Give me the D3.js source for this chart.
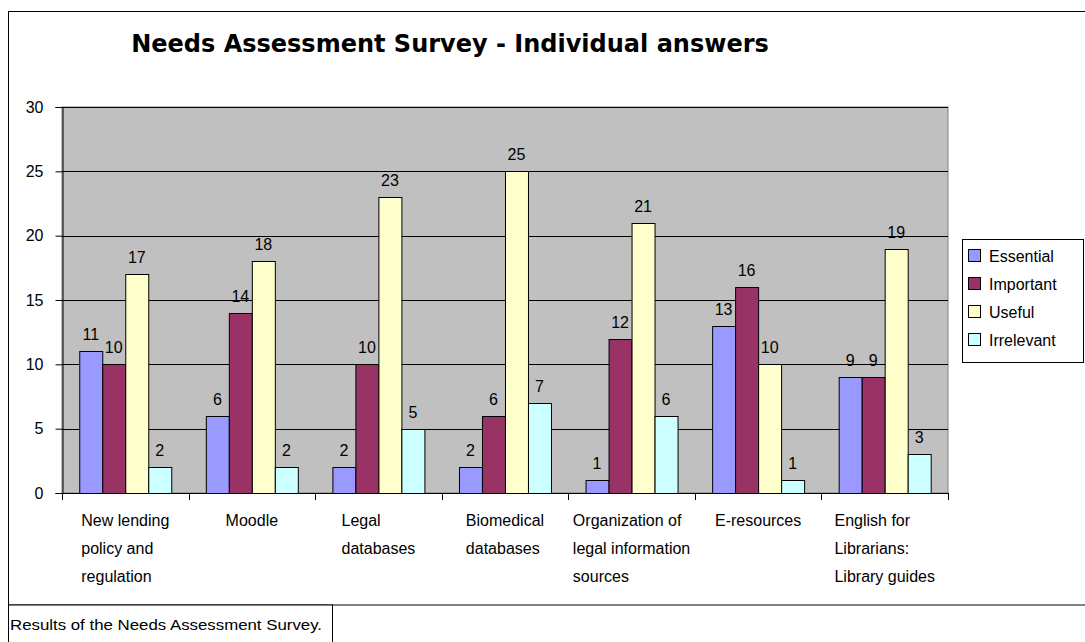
<!DOCTYPE html>
<html><head><meta charset="utf-8">
<script src="https://cdn.jsdelivr.net/npm/d3@7"></script>
<style>body{margin:0;background:#fff}svg{display:block}</style>
</head><body>
<svg id="c" width="1085" height="642"></svg>
<script>
const categories = [
  ["New lending","policy and","regulation"],
  ["Moodle"],
  ["Legal","databases"],
  ["Biomedical","databases"],
  ["Organization of","legal information","sources"],
  ["E-resources"],
  ["English for","Librarians:","Library guides"]
];
const seriesNames = ["Essential","Important","Useful","Irrelevant"];
const essential  = [11, 6, 2, 2, 1, 13, 9];
const important  = [10, 14, 10, 6, 12, 16, 9];
const useful     = [17, 18, 23, 25, 21, 10, 19];
const irrelevant = [2, 2, 5, 7, 6, 1, 3];
const yTicks = [0, 5, 10, 15, 20, 25, 30];
const colors = ["#9999ff","#993366","#ffffcc","#ccffff"];
const title = "Needs Assessment Survey - Individual answers";
const caption = "Results of the Needs Assessment Survey.";

const series = [essential, important, useful, irrelevant];
const svg = d3.select("#c");
const font = "Liberation Sans, Arial, sans-serif";

// outer frame
svg.append("rect").attr("x",8.5).attr("y",11.5).attr("width",1090).attr("height",593.5)
  .attr("fill","#fff").attr("stroke","#000");
// caption box
svg.append("rect").attr("x",8.5).attr("y",605).attr("width",324).attr("height",50)
  .attr("fill","#fff").attr("stroke","#000");
svg.append("text").attr("x",10).attr("y",630).attr("font-family",font).attr("font-size",14.5)
  .attr("textLength",312).attr("lengthAdjust","spacingAndGlyphs")
  .text(caption);

// title
svg.append("text").attr("x",450).attr("y",52).attr("text-anchor","middle")
  .attr("font-family","DejaVu Sans, sans-serif").attr("font-weight","bold").attr("font-size",24)
  .text(title);

const L = 62, R = 948, T = 107, B = 493;
const x = d3.scaleBand().domain(d3.range(categories.length)).range([L, R]).paddingInner(0).paddingOuter(0);
const y = d3.scaleLinear().domain([0, 30]).range([B, T]);
const bw = x.bandwidth() / 5.5;
const xs = d3.scaleBand().domain(d3.range(4)).range([0, bw*4]);

// plot area
svg.append("rect").attr("x",L).attr("y",T).attr("width",R-L).attr("height",B-T)
  .attr("fill","#c0c0c0").attr("stroke","#808080");

// gridlines
svg.append("g").selectAll("line").data(yTicks.filter(d=>d>0)).join("line")
  .attr("x1",L).attr("x2",R).attr("y1",d=>Math.round(y(d))+0.5).attr("y2",d=>Math.round(y(d))+0.5)
  .attr("stroke","#000");

// y axis
const ya = svg.append("g").attr("transform",`translate(${L+0.5},0)`)
  .call(d3.axisLeft(y).tickValues(yTicks).tickSize(7).tickPadding(12));
ya.select(".domain").attr("stroke","#000");
ya.selectAll("text").attr("font-family",font).attr("font-size",16).attr("fill","#000");

// x axis line and ticks
svg.append("line").attr("x1",L).attr("x2",R).attr("y1",B+0.5).attr("y2",B+0.5).attr("stroke","#000");
const bounds = d3.range(categories.length+1).map(i => i < categories.length ? x(i) : x(i-1)+x.bandwidth());
svg.append("g").selectAll("line").data(bounds).join("line")
  .attr("x1",d=>Math.round(d)+0.5).attr("x2",d=>Math.round(d)+0.5).attr("y1",B).attr("y2",B+7)
  .attr("stroke","#000");

// bars
const groups = svg.append("g").selectAll("g").data(categories).join("g")
  .attr("transform",(d,i)=>`translate(${x(i) + (x.bandwidth()-bw*4)/2},0)`);
groups.each(function(cat, ci){
  const g = d3.select(this);
  series.forEach((s, si) => {
    const v = s[ci];
    const bx = Math.round(xs(si)) + 0.5;
    const top = Math.round(y(v)) + 0.5;
    g.append("rect").attr("x",bx).attr("y",top).attr("width",Math.round(bw))
      .attr("height",Math.max(0, B - top + 0.5)).attr("fill",colors[si]).attr("stroke","#000");
    g.append("text").attr("x",xs(si)+bw/2).attr("y",y(v)-11).attr("text-anchor","middle")
      .attr("font-family",font).attr("font-size",16).attr("fill","#000").text(v);
  });
});

// category labels
categories.forEach((lines, i) => {
  const t = svg.append("text").attr("font-family",font).attr("font-size",16).attr("fill","#000");
  lines.forEach((ln, li) => {
    t.append("tspan").attr("y", 526 + li*28).text(ln);
  });
  const tmp = [];
  t.selectAll("tspan").each(function(){ tmp.push(this.getComputedTextLength()); });
  const w = d3.max(tmp);
  const cx = x(i) + x.bandwidth()/2;
  t.selectAll("tspan").attr("x", cx - w/2);
});

// legend
const lg = svg.append("g");
lg.append("rect").attr("x",962.5).attr("y",239.5).attr("width",121).attr("height",123)
  .attr("fill","#fff").attr("stroke","#000");
seriesNames.forEach((n, i) => {
  const ry = 256 + i*28;
  lg.append("rect").attr("x",968.5).attr("y",ry-6.5).attr("width",12).attr("height",12)
    .attr("fill",colors[i]).attr("stroke","#000");
  lg.append("text").attr("x",989).attr("y",ry+6).attr("font-family",font).attr("font-size",16)
    .attr("fill","#000").text(n);
});
</script>
</body></html>
